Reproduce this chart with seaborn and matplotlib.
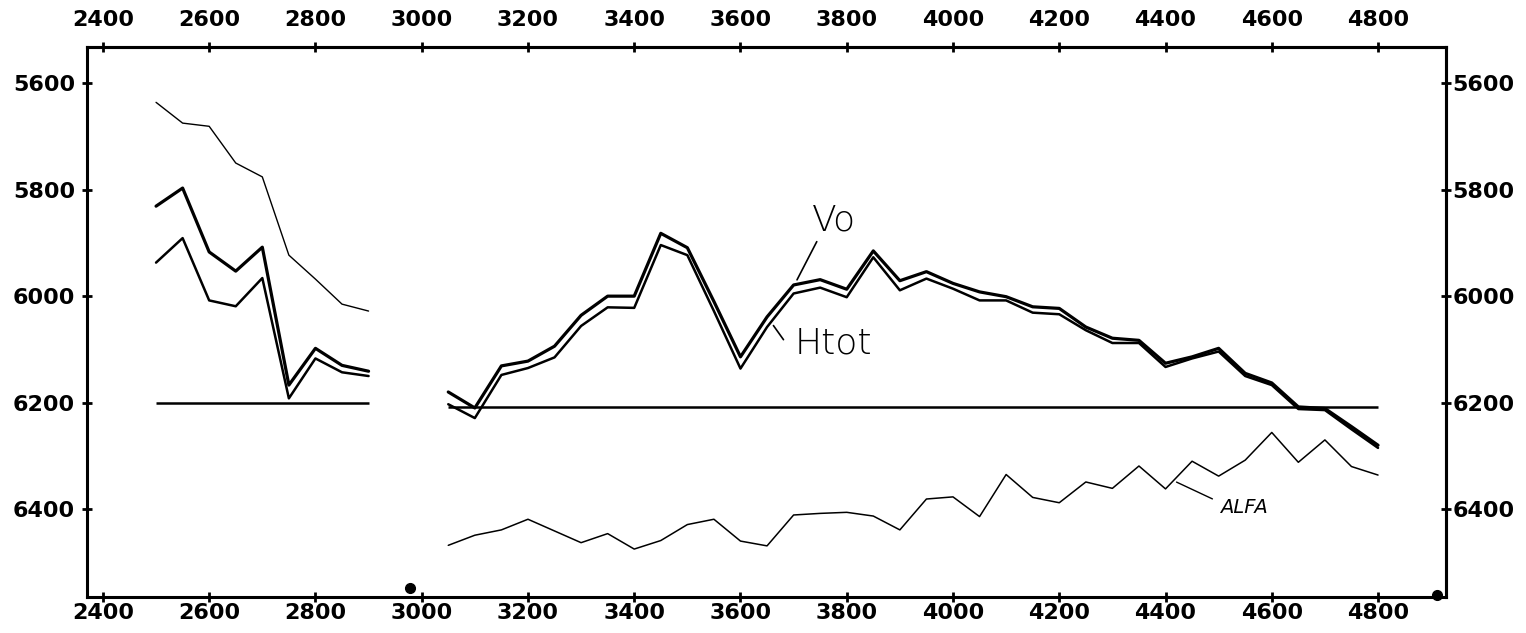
"""
Velocity profile sheet: Vo / Htot / ALFA against depth, plotter style
"""
import matplotlib
matplotlib.use("Agg")
import matplotlib.pyplot as plt
import pandas as pd
import seaborn as sns

# ---- data ----
# left block (2500 - 2900)
x_left = [2500, 2550, 2600, 2650, 2700, 2750, 2800, 2850, 2900]
upper_left = [5636, 5675, 5681, 5750, 5776, 5923, 5968, 6015, 6028]
vo_left = [5831, 5797, 5917, 5953, 5908, 6167, 6098, 6130, 6141]
htot_left = [5937, 5891, 6008, 6019, 5966, 6192, 6117, 6143, 6150]

# right block (3050 - 4800)
x_right = [3050, 3100, 3150, 3200, 3250, 3300, 3350, 3400, 3450, 3500,
           3550, 3600, 3650, 3700, 3750, 3800, 3850, 3900, 3950, 4000,
           4050, 4100, 4150, 4200, 4250, 4300, 4350, 4400, 4450, 4500,
           4550, 4600, 4650, 4700, 4750, 4800]
vo_right = [6180, 6210, 6131, 6122, 6094, 6036, 6000, 6000, 5882, 5909,
            6010, 6114, 6039, 5979, 5969, 5987, 5915, 5971, 5954, 5976,
            5992, 6001, 6020, 6023, 6058, 6079, 6083, 6126, 6114, 6098,
            6145, 6163, 6208, 6211, 6245, 6280]
htot_right = [6203, 6229, 6148, 6135, 6115, 6056, 6021, 6022, 5904, 5923,
              6028, 6136, 6058, 5995, 5984, 6002, 5927, 5989, 5967, 5986,
              6008, 6008, 6031, 6034, 6064, 6088, 6088, 6133, 6117, 6104,
              6150, 6167, 6212, 6214, 6250, 6285]
alfa_right = [6468, 6449, 6439, 6419, 6441, 6463, 6446, 6475, 6459, 6429,
              6419, 6460, 6469, 6411, 6408, 6406, 6413, 6439, 6381, 6377,
              6414, 6335, 6378, 6388, 6349, 6361, 6319, 6362, 6310, 6338,
              6308, 6256, 6312, 6270, 6320, 6336]

# reference level drawn under each block
ref_left = 6200
ref_right = 6208

# registration marks at the bottom of the sheet
marks_x = [2978, 4911]
marks_y = [6548, 6561]

x_ticks = [2400, 2600, 2800, 3000, 3200, 3400, 3600, 3800, 4000, 4200, 4400, 4600, 4800]
y_ticks = [5600, 5800, 6000, 6200, 6400]

# ---- style ----
sns.set_style("white")
plt.rcParams['font.family'] = ['DejaVu Sans']
plt.rcParams['font.weight'] = 'bold'
for key in ['text.color', 'axes.labelcolor', 'xtick.color', 'ytick.color']:
    plt.rcParams[key] = 'black'

fig = plt.figure(figsize=(15.26, 6.33), dpi=100)
ax = fig.add_axes([0.0570, 0.0569, 0.8906, 0.8689])

left = pd.DataFrame({'x': x_left, 'upper': upper_left, 'vo': vo_left, 'htot': htot_left})
right = pd.DataFrame({'x': x_right, 'vo': vo_right, 'htot': htot_right, 'alfa': alfa_right})

line_kw = dict(color='black', estimator=None, sort=False, legend=False, ax=ax)

sns.lineplot(data=left, x='x', y='upper', linewidth=1.0, **line_kw)
sns.lineplot(data=left, x='x', y='vo', linewidth=2.3, **line_kw)
sns.lineplot(data=left, x='x', y='htot', linewidth=1.8, **line_kw)

sns.lineplot(data=right, x='x', y='vo', linewidth=2.3, **line_kw)
sns.lineplot(data=right, x='x', y='htot', linewidth=1.8, **line_kw)
sns.lineplot(data=right, x='x', y='alfa', linewidth=1.1, **line_kw)

ax.hlines(ref_left, x_left[0], x_left[-1], color='black', linewidth=1.8)
ax.hlines(ref_right, x_right[0], x_right[-1], color='black', linewidth=1.8)

ax.plot(marks_x, marks_y, 'o', color='black', markersize=7, clip_on=False)

# curve labels with leader strokes (thin plotter lettering)
label_kw = dict(fontweight='light', va='baseline', color='black')
ax.text(3734, 5876, 'Vo', fontsize=26, **label_kw)
ax.annotate('', xy=(3704, 5974), xytext=(3746, 5893),
            arrowprops=dict(arrowstyle='-', color='black', lw=1.2))
ax.text(3702, 6107, 'Htot', fontsize=26, **label_kw)
ax.annotate('', xy=(3659, 6051), xytext=(3684, 6086),
            arrowprops=dict(arrowstyle='-', color='black', lw=1.2))
ax.text(4502, 6407, 'ALFA', fontsize=14, fontstyle='italic', **label_kw)
ax.annotate('', xy=(4416, 6347), xytext=(4493, 6383),
            arrowprops=dict(arrowstyle='-', color='black', lw=1.0))

# ---- axes ----
ax.set_xlim(2370, 4928)
ax.set_ylim(6565, 5532)
ax.set_xlabel('')
ax.set_ylabel('')
ax.set_xticks(x_ticks)
ax.set_yticks(y_ticks)
ax.tick_params(axis='x', bottom=True, top=False, direction='inout', length=7, width=2,
               labelsize=16, pad=1)
ax.tick_params(axis='y', left=True, right=False, direction='inout', length=7, width=2,
               labelsize=16, pad=5)
for side in ['left', 'right', 'top', 'bottom']:
    ax.spines[side].set_visible(True)
    ax.spines[side].set_linewidth(2.2)
    ax.spines[side].set_color('black')

top = ax.secondary_xaxis('top')
top.set_xticks(x_ticks)
top.tick_params(direction='inout', length=7, width=2, labelsize=16, pad=9)
top.spines['top'].set_linewidth(2.2)

rgt = ax.secondary_yaxis('right')
rgt.set_yticks(y_ticks)
rgt.tick_params(direction='inout', length=7, width=2, labelsize=16, pad=1)
rgt.spines['right'].set_linewidth(2.2)

fig.savefig('out.png', dpi=100, facecolor='white')
